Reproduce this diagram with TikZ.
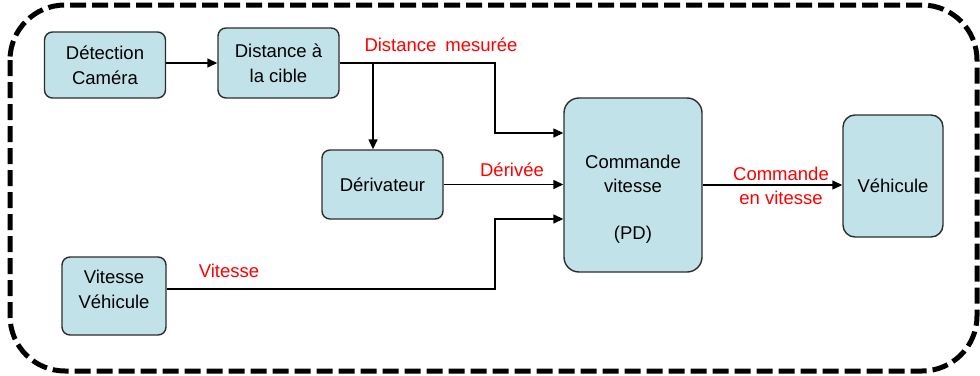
\documentclass[tikz,border=0pt]{standalone}
\usepackage{fontspec}
\setmainfont{Liberation Sans}
\usetikzlibrary{arrows.meta,calc}
\definecolor{boxfill}{RGB}{193,226,232}
\definecolor{boxline}{RGB}{45,45,45}
\begin{document}
\begin{tikzpicture}[x=1pt,y=-1pt,
  blk/.style={draw=boxline,line width=1.4pt,fill=boxfill,rounded corners=8pt,
    align=center,inner sep=0pt,font=\fontsize{18.5}{25}\selectfont},
  intext/.style={align=center,inner sep=0pt,font=\fontsize{18.5}{25}\selectfont},
  arr/.style={line width=1.4pt,-{Triangle[length=10pt,width=9pt]}},
  lbl/.style={text=red,align=center,inner sep=0pt,font=\fontsize{18.5}{23.5}\selectfont}]
\useasboundingbox (0,0) rectangle (980,375);
\draw[line width=5pt,dash pattern=on 16pt off 6pt,rounded corners=55pt] (10,5) rectangle (977,371);

\node[blk,minimum width=121pt,minimum height=66pt] (det) at (105,65) {Détection\\Caméra};
\node[blk,minimum width=121pt,minimum height=70pt] (dist) at (278.5,63) {Distance à\\la cible};
\node[blk,minimum width=121pt,minimum height=69pt] (der) at (382.5,184.5) {Dérivateur};
\node[blk,minimum width=104pt,minimum height=78pt,
      label={[intext,yshift=7pt]center:Vitesse\\Véhicule}] (vit) at (114,296) {};
\node[blk,rounded corners=15pt,minimum width=138pt,minimum height=174pt,
      label={[intext,yshift=-14pt,font=\fontsize{18.5}{23.5}\selectfont]center:Commande\\vitesse\\[23.5pt](PD)}] (cmd) at (633,185) {};
\node[blk,rounded corners=12pt,minimum width=100pt,minimum height=122pt,
      label={[intext,yshift=-10pt]center:Véhicule}] (veh) at (893,176) {};

\coordinate (b1) at (373,63);
\coordinate (k1) at (495,133);
\coordinate (k2) at (495,219);
\coordinate (v1) at (200,289);
\coordinate (c1) at (800,185);

\draw[arr] (det.east |- dist.east) -- (dist.west);
\draw[arr] (dist.east) -| (k1) -- (k1 -| cmd.west);
\draw[arr] (b1) -- (b1 |- der.north);
\draw[arr] (der.east) -- (der.east -| cmd.west);
\draw[arr] (vit.east |- v1) -| (k2) -- (k2 -| cmd.west);
\draw[arr] (cmd.east |- c1) -- (c1 -| veh.west);

\node[lbl] (l1) at (441,45) {Distance\hspace{9pt}mesurée};
\node[lbl] (l2) at (512,170) {Dérivée};
\node[lbl] (l3) at (229,271) {Vitesse};
\node[lbl] (l4) at (781,186) {Commande\\en vitesse};
\end{tikzpicture}
\end{document}
